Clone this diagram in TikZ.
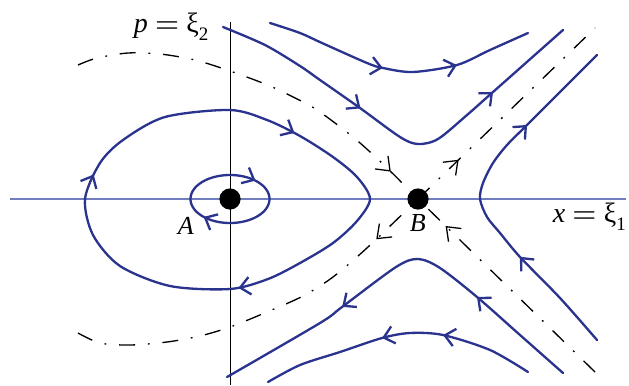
\documentclass[tikz,border=0pt]{standalone}
\usepackage{fontspec}
\setmainfont{Liberation Serif}
\usetikzlibrary{arrows.meta,decorations.markings}
\definecolor{flow}{RGB}{42,52,142}
\definecolor{axisblue}{RGB}{112,125,190}
\tikzset{
  bluetip/.tip={Straight Barb[length=2.5pt,width=4.4pt,line width=0.58pt]},
  blacktip/.tip={Straight Barb[length=3pt,width=4.6pt,line width=0.32pt]},
  orbit/.style={color=flow, draw, line width=0.58pt, line cap=round, line join=round},
  sep/.style={color=black, draw, line width=0.33pt, dash pattern=on 4pt off 3.2pt on 0.45pt off 3.2pt},
  arr/.style={postaction={decorate, decoration={markings, mark=at position #1 with {\arrow{bluetip}}}}},
  sarr/.style={postaction={decorate, decoration={markings, mark=at position #1 with {\pgfsetdash{}{0pt}\arrow{blacktip}}}}},
  rsarr/.style={postaction={decorate, decoration={markings, mark=at position #1 with {\pgfsetdash{}{0pt}\arrowreversed{blacktip}}}}},
  dot/.style={circle, fill=black, minimum size=5.3pt, inner sep=0pt},
  lab/.style={inner sep=0pt, font=\fontsize{7}{7}\selectfont},
  ptlab/.style={inner sep=0pt, font=\fontsize{6.5}{6.5}\selectfont}
}
\newcommand{\subtxt}[1]{\raisebox{-0.3em}{\fontsize{4.75}{4.75}\selectfont #1}}
\begin{document}
\begin{tikzpicture}[x=0.25pt,y=-0.25pt]
\useasboundingbox (0,0) rectangle (629,385);
% axes
\coordinate (xl) at (10,199);
\coordinate (xr) at (626,199);
\coordinate (yt) at (230,22);
\coordinate (yb) at (230,385);
\draw[axisblue, line width=0.3pt] (xl) -- (xr);
\draw[black, line width=0.25pt] (yt) -- (yb);
% points
\node[dot] (A) at (230,199) {};
\node[dot] (B) at (418,199) {};
% separatrices
\coordinate (urend) at (595,28);
\coordinate (lrend) at (595,372);
\draw[sep, sarr=0.9] plot[smooth] coordinates {(78,65) (97,58) (128,53) (160,54) (195,60) (230,71) (270,86) (303,102) (320,112) (353,137) (383,164) (418,199)};
\draw[sep, rsarr=0.85] plot[smooth] coordinates {(78,333) (100,343) (130,345) (167,342) (200,336) (230,327) (267,312) (303,296) (333,277) (368,247) (418,199)};
\draw[sep, sarr=0.23] (B.center) -- (urend);
\draw[sep, sarr=0.846] (lrend) -- (B.center);
% small orbit around A
\draw[orbit, arr=0.88, arr=0.385] plot[domain=0:360, samples=91] ({230+39.5*cos(\x)}, {199+24*sin(\x)}) -- cycle;
% large orbit around A
\draw[orbit, arr=0.191, arr=0.506, arr=0.822] plot[smooth cycle] coordinates {(370,199) (357,221) (333,243) (300,263) (268,279) (230,289) (170,286) (120,266) (93,235) (85,199) (100,163) (123,140) (165,117) (230,110) (267,120) (300,136) (333,157) (357,177)};
% upper curves
\draw[orbit, arr=0.443, arr=0.716] plot[smooth] coordinates {(270,23) (300,33) (322,43) (367,63) (383,68) (413,72) (457,65) (490,50) (528,33)};
\draw[orbit, arr=0.386, arr=0.775] plot[smooth] coordinates {(223,27) (265,45) (300,66) (320,80) (360,108) (400,137) (418,144) (438,139) (467,115) (493,92) (563,30)};
% right branch
\draw[orbit, arr=0.304, arr=0.735] plot[smooth] coordinates {(597,340) (560,298) (520,257) (500,233) (487,217) (480,199) (483,183) (493,163) (507,145) (527,125) (560,92) (597,55)};
% lower curves
\draw[orbit, arr=0.279, arr=0.672] plot[smooth] coordinates {(563,373) (520,335) (477,297) (440,268) (418,259) (396,267) (342,307) (320,323) (227,377)};
\draw[orbit, arr=0.336, arr=0.558] plot[smooth] coordinates {(528,372) (490,350) (443,335) (410,333) (382,338) (340,352) (300,365) (268,382)};
% labels
\node[lab, anchor=base west] (plab) at (133,32) {\textit{p} $=$ ξ\subtxt{2}};
\node[lab, anchor=base west] (xlab) at (552,222) {\textit{x} $=$ ξ\subtxt{1}};
\node[ptlab, anchor=base west] (Alab) at (177,234) {\textit{A}};
\node[ptlab, anchor=base west] (Blab) at (409,231) {\textit{B}};
\end{tikzpicture}
\end{document}
